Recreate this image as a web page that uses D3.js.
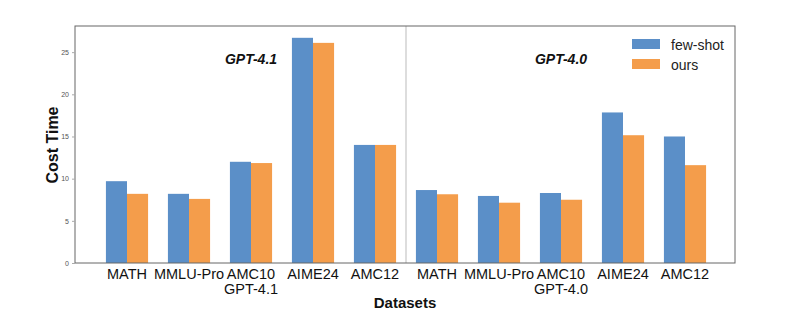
<!DOCTYPE html>
<html><head><meta charset="utf-8">
<script src="https://cdn.jsdelivr.net/npm/d3@7"></script>
<style>body{margin:0;background:#fff}svg{display:block}</style>
</head><body>
<svg id="c" width="792" height="326"></svg>
<script>
const categories = ["MATH","MMLU-Pro","AMC10","AIME24","AMC12","MATH","MMLU-Pro","AMC10","AIME24","AMC12"];
const subLabels = ["","","GPT-4.1","","","","","GPT-4.0","",""];
const fewShot = [9.7, 8.2, 12.0, 26.7, 14.0, 8.65, 7.95, 8.3, 17.85, 15.0];
const ours    = [8.2, 7.6, 11.85, 26.1, 14.0, 8.15, 7.15, 7.5, 15.15, 11.6];
const yTicks = [0,5,10,15,20,25];
const groupTitles = ["GPT-4.1","GPT-4.0"];
const seriesNames = ["few-shot","ours"];
const colors = ["#5b8fc8","#f49d4b"];

const svg = d3.select("#c");
const L=75, R=735, T=26, B=263;
const x = d3.scaleBand().domain(d3.range(categories.length)).range([96,716]).paddingInner(0.32).paddingOuter(0.16);
const y = d3.scaleLinear().domain([0,28.1]).range([B,T]);
const sub = d3.scaleBand().domain([0,1]).range([0,x.bandwidth()]);

// bars
const series=[fewShot,ours];
series.forEach((vals,si)=>{
  svg.append("g").selectAll("rect").data(vals).join("rect")
    .attr("x",(d,i)=>x(i)+sub(si))
    .attr("y",d=>y(d))
    .attr("width",sub.bandwidth())
    .attr("height",d=>B-y(d))
    .attr("fill",colors[si]);
});

// divider
const midX=(x(4)+x.bandwidth()+x(5))/2;
svg.append("line").attr("x1",midX).attr("x2",midX).attr("y1",T).attr("y2",B).attr("stroke","#bbb").attr("stroke-width",1);

// frame
svg.append("rect").attr("x",L).attr("y",T).attr("width",R-L).attr("height",B-T).attr("fill","none").attr("stroke","#666").attr("stroke-width",1);

// y axis
const ya=svg.append("g").attr("transform",`translate(${L},0)`).call(d3.axisLeft(y).tickValues(yTicks).tickSize(3).tickPadding(3));
ya.select(".domain").remove();
ya.selectAll("line").attr("stroke","#aaa");
ya.selectAll("text").attr("font-family","Liberation Sans, Arial").attr("font-size",7).attr("fill","#555");

// x labels
const xa=svg.append("g").attr("transform",`translate(0,${B})`).call(d3.axisBottom(x).tickSize(0).tickPadding(0).tickFormat(()=>""));
xa.select(".domain").remove();
xa.selectAll(".tick").each(function(d){
  const g=d3.select(this);
  g.append("text").attr("y",16).attr("text-anchor","middle").attr("font-family","Liberation Sans, Arial").attr("font-size",14.5).attr("fill","#111").text(categories[d]);
  if(subLabels[d]) g.append("text").attr("y",31).attr("text-anchor","middle").attr("font-family","Liberation Sans, Arial").attr("font-size",14.5).attr("fill","#111").text(subLabels[d]);
});

// group titles
[2,7].forEach((ci,k)=>{
  svg.append("text").attr("x",x(ci)+x.bandwidth()/2).attr("y",64).attr("text-anchor","middle")
    .attr("font-family","Liberation Sans, Arial").attr("font-size",14).attr("font-weight","bold").attr("font-style","italic").attr("fill","#111").text(groupTitles[k]);
});

// axis titles
svg.append("text").attr("x",405).attr("y",308).attr("text-anchor","middle").attr("font-family","Liberation Sans, Arial").attr("font-size",15).attr("font-weight","bold").attr("fill","#111").text("Datasets");
svg.append("text").attr("transform","translate(58,145) rotate(-90)").attr("text-anchor","middle").attr("font-family","Liberation Sans, Arial").attr("font-size",16).attr("font-weight","bold").attr("fill","#111").text("Cost Time");

// legend
seriesNames.forEach((n,i)=>{
  svg.append("rect").attr("x",632).attr("y",39+i*20).attr("width",28).attr("height",10).attr("fill",colors[i]);
  svg.append("text").attr("x",671).attr("y",50+i*20).attr("font-family","Liberation Sans, Arial").attr("font-size",14).attr("fill","#222").text(n);
});
</script>
</body></html>
